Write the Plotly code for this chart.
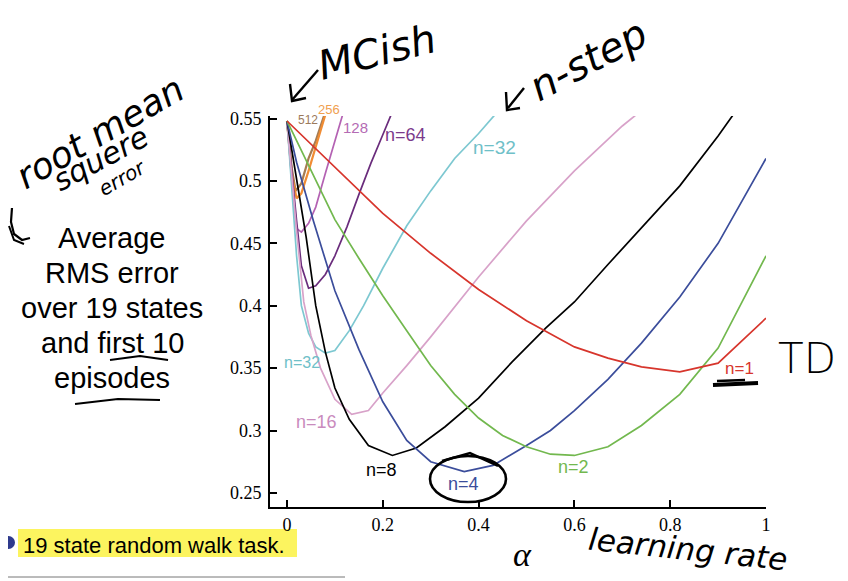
import plotly.graph_objects as go

# ---------------- data ----------------
alpha_n1 = [0, 0.1, 0.2, 0.3, 0.4, 0.5, 0.6, 0.67, 0.74, 0.82, 0.9, 1.0]
rms_n1 = [0.548, 0.511, 0.474, 0.442, 0.413, 0.388, 0.367, 0.358, 0.351, 0.347, 0.354, 0.390]

alpha_n2 = [0, 0.05, 0.1, 0.15, 0.2, 0.25, 0.3, 0.35, 0.4, 0.45, 0.5, 0.55, 0.6, 0.67, 0.74, 0.82, 0.9, 1.0]
rms_n2 = [0.548, 0.508, 0.469, 0.438, 0.408, 0.380, 0.352, 0.329, 0.310, 0.296, 0.287, 0.281, 0.280, 0.287, 0.304, 0.329, 0.366, 0.440]

alpha_n4 = [0, 0.02, 0.055, 0.1, 0.15, 0.2, 0.25, 0.3, 0.37, 0.43, 0.5, 0.55, 0.6, 0.67, 0.74, 0.82, 0.9, 1.0]
rms_n4 = [0.548, 0.515, 0.468, 0.412, 0.365, 0.323, 0.292, 0.275, 0.267, 0.272, 0.288, 0.300, 0.316, 0.341, 0.370, 0.407, 0.450, 0.518]

alpha_n8 = [0, 0.02, 0.04, 0.06, 0.08, 0.1, 0.13, 0.17, 0.22, 0.27, 0.33, 0.4, 0.47, 0.54, 0.6, 0.67, 0.74, 0.82, 0.9, 1.0]
rms_n8 = [0.548, 0.502, 0.455, 0.400, 0.363, 0.334, 0.309, 0.288, 0.280, 0.286, 0.303, 0.326, 0.355, 0.382, 0.403, 0.433, 0.462, 0.496, 0.536, 0.590]

alpha_n16 = [0, 0.01, 0.02, 0.035, 0.05, 0.07, 0.1, 0.135, 0.17, 0.2, 0.25, 0.3, 0.35, 0.4, 0.5, 0.6, 0.7, 0.8]
rms_n16 = [0.548, 0.505, 0.460, 0.403, 0.376, 0.350, 0.325, 0.313, 0.316, 0.330, 0.352, 0.375, 0.399, 0.423, 0.468, 0.508, 0.544, 0.575]

alpha_n32 = [0, 0.01, 0.02, 0.03, 0.045, 0.06, 0.08, 0.1, 0.13, 0.16, 0.2, 0.25, 0.3, 0.35, 0.4, 0.45]
rms_n32 = [0.548, 0.490, 0.440, 0.400, 0.378, 0.367, 0.362, 0.364, 0.380, 0.400, 0.430, 0.464, 0.492, 0.518, 0.538, 0.560]

alpha_n64 = [0, 0.01, 0.02, 0.03, 0.045, 0.06, 0.08, 0.1, 0.125, 0.15, 0.175, 0.2, 0.225]
rms_n64 = [0.548, 0.505, 0.468, 0.432, 0.414, 0.416, 0.425, 0.440, 0.463, 0.489, 0.514, 0.537, 0.560]

alpha_n128 = [0, 0.01, 0.02, 0.03, 0.045, 0.06, 0.08, 0.1, 0.12]
rms_n128 = [0.548, 0.500, 0.462, 0.459, 0.466, 0.479, 0.506, 0.532, 0.558]

alpha_n256 = [0, 0.01, 0.02, 0.03, 0.045, 0.06, 0.08]
rms_n256 = [0.548, 0.505, 0.486, 0.490, 0.508, 0.527, 0.553]

alpha_n512 = [0, 0.01, 0.018, 0.03, 0.045, 0.06, 0.078]
rms_n512 = [0.548, 0.510, 0.492, 0.498, 0.518, 0.532, 0.553]

x_ticks = [0, 0.2, 0.4, 0.6, 0.8, 1]
y_ticks = [0.25, 0.3, 0.35, 0.4, 0.45, 0.5, 0.55]

# ---------------- figure ----------------
series = [
    (alpha_n512, rms_n512, "#a67c52", 2.2),
    (alpha_n256, rms_n256, "#f08c34", 2.2),
    (alpha_n128, rms_n128, "#b462b3", 1.7),
    (alpha_n64, rms_n64, "#6a2c7c", 1.7),
    (alpha_n32, rms_n32, "#7dc8d1", 1.7),
    (alpha_n16, rms_n16, "#d8a2c9", 1.7),
    (alpha_n8, rms_n8, "#000000", 1.7),
    (alpha_n4, rms_n4, "#3b4d9b", 1.7),
    (alpha_n2, rms_n2, "#72b84e", 1.7),
    (alpha_n1, rms_n1, "#d7352c", 1.7),
]

fig = go.Figure()
for a, r, c, w in series:
    fig.add_trace(go.Scatter(x=a, y=r, mode="lines", line=dict(color=c, width=w),
                             showlegend=False, hoverinfo="skip"))

# page offset of the plot div (browser body margin)
OFF = 8
W, H = 848 - OFF, 581 - OFF
L, R, T, B = 270 - OFF, 766 - OFF, 116 - OFF, 507 - OFF


def P(x, y):
    """screen pixel -> paper coords"""
    x -= OFF
    y -= OFF
    return (x - L) / (R - L), (B - y) / (B - T)


def path(points):
    s = ""
    for i, (x, y) in enumerate(points):
        px, py = P(x, y)
        s += ("M" if i == 0 else "L") + f" {px:.4f} {py:.4f} "
    return s


annotations = []

# curve labels
lab = [
    ("512", 308, 120, "#9c7a5c", 12),
    ("256", 329, 110, "#f0a050", 13),
    ("128", 355, 128, "#b46bb4", 15),
    ("n=64", 405, 135, "#7b3b8c", 18),
    ("n=32", 494, 147, "#6fc0c8", 19),
    ("n=32", 302, 362, "#6fc0c8", 16),
    ("n=16", 316, 422, "#c98bbd", 18),
    ("n=8", 381, 470, "#000000", 18),
    ("n=4", 463, 484, "#3b4d9b", 18),
    ("n=2", 573, 467, "#72b84e", 18),
    ("n=1", 739, 368, "#d7352c", 17),
]
for t, x, y, c, s in lab:
    px, py = P(x, y)
    annotations.append(dict(text=t, x=px, y=py, xref="paper", yref="paper", showarrow=False,
                            xanchor="center", yanchor="middle",
                            font=dict(family="Liberation Sans, Arial", size=s, color=c)))

# left caption, one line each
for t, y in [("Average", 238), ("RMS error", 273), ("over 19 states", 308),
             ("and first 10", 343), ("episodes", 378)]:
    px, py = P(112, y)
    annotations.append(dict(text=t, x=px, y=py, xref="paper", yref="paper", showarrow=False,
                            xanchor="center", yanchor="middle",
                            font=dict(family="Liberation Sans, Arial", size=29, color="black")))

# bottom bullet text
px, py = P(21, 545)
annotations.append(dict(text="19 state random walk task.", x=px, y=py, xref="paper", yref="paper",
                        showarrow=False, xanchor="left", yanchor="middle",
                        font=dict(family="Liberation Sans, Arial", size=22, color="black")))

# handwriting-like annotations
hw = [
    ("root mean", 100, 133, -30, 36, "italic"),
    ("squere", 100, 158, -28, 30, "italic"),
    ("error", 122, 178, -30, 20, "italic"),
    ("MCish", 377, 52, -14, 40, "italic"),
    ("n-step", 588, 60, -28, 40, "italic"),
    ("TD", 807, 358, 0, 42, "normal"),
    ("learning rate", 688, 549, 6, 31, "italic"),
]
for t, x, y, ang, s, st in hw:
    px, py = P(x, y)
    annotations.append(dict(text=t, x=px, y=py, xref="paper", yref="paper", showarrow=False,
                            xanchor="center", yanchor="middle", textangle=ang,
                            font=dict(family="DejaVu Sans, Liberation Sans", size=s, color="black",
                                      style=st, weight=200)))
px, py = P(522, 554)
annotations.append(dict(text="α", x=px, y=py, xref="paper", yref="paper", showarrow=False,
                        xanchor="center", yanchor="middle",
                        font=dict(family="Liberation Serif, Times New Roman", size=34, color="black",
                                  style="italic")))

shapes = []
# highlight + bullet + rule line
x0, y0 = P(18, 557)
x1, y1 = P(297, 529)
shapes.append(dict(type="rect", xref="paper", yref="paper", x0=x0, y0=y0, x1=x1, y1=y1,
                   fillcolor="#fcf45f", line=dict(width=0), layer="below"))
x0, y0 = P(2, 549)
x1, y1 = P(15, 536)
shapes.append(dict(type="circle", xref="paper", yref="paper", x0=x0, y0=y0, x1=x1, y1=y1,
                   fillcolor="#2e3a8c", line=dict(width=0)))
x0, y0 = P(0, 577)
x1, y1 = P(345, 577)
shapes.append(dict(type="line", xref="paper", yref="paper", x0=x0, y0=y0, x1=x1, y1=y1,
                   line=dict(color="#777777", width=1)))

strokes = [
    ([(12, 208), (11, 222), (14, 234), (22, 240), (30, 238)], 2.2),
    ([(9, 226), (14, 240), (24, 244)], 2.0),
    ([(318, 70), (292, 100)], 2.4),
    ([(290, 84), (292, 101), (306, 98)], 2.4),
    ([(524, 88), (508, 108)], 2.4),
    ([(506, 92), (507, 110), (520, 108)], 2.4),
    ([(110, 360), (140, 356), (168, 360)], 2.0),
    ([(75, 404), (118, 399), (160, 400)], 2.0),
    ([(713, 385), (758, 383)], 4.0),
    ([(717, 381), (745, 380)], 2.5),
    ([(442, 461), (470, 453), (498, 466)], 2.5),
]
for pts, w in strokes:
    shapes.append(dict(type="path", xref="paper", yref="paper", path=path(pts),
                       line=dict(color="black", width=w)))
x0, y0 = P(430, 502)
x1, y1 = P(506, 456)
shapes.append(dict(type="circle", xref="paper", yref="paper", x0=x0, y0=y0, x1=x1, y1=y1,
                   line=dict(color="black", width=2.6)))

axis_common = dict(showline=True, linewidth=2, linecolor="black", ticks="inside", ticklen=7,
                   tickwidth=1.5, tickcolor="black", showgrid=False, zeroline=False,
                   tickfont=dict(family="Liberation Serif, Times New Roman", size=18, color="black"))

fig.update_layout(
    width=W, height=H,
    margin=dict(l=L, r=W - R, t=T, b=H - B),
    paper_bgcolor="white", plot_bgcolor="white",
    xaxis=dict(range=[-0.0355, 1.0], tickvals=x_ticks, **axis_common),
    yaxis=dict(range=[0.2387, 0.552], tickvals=y_ticks, ticklabelstandoff=3, **axis_common),
    annotations=annotations, shapes=shapes,
)

fig.write_html("out.html")
